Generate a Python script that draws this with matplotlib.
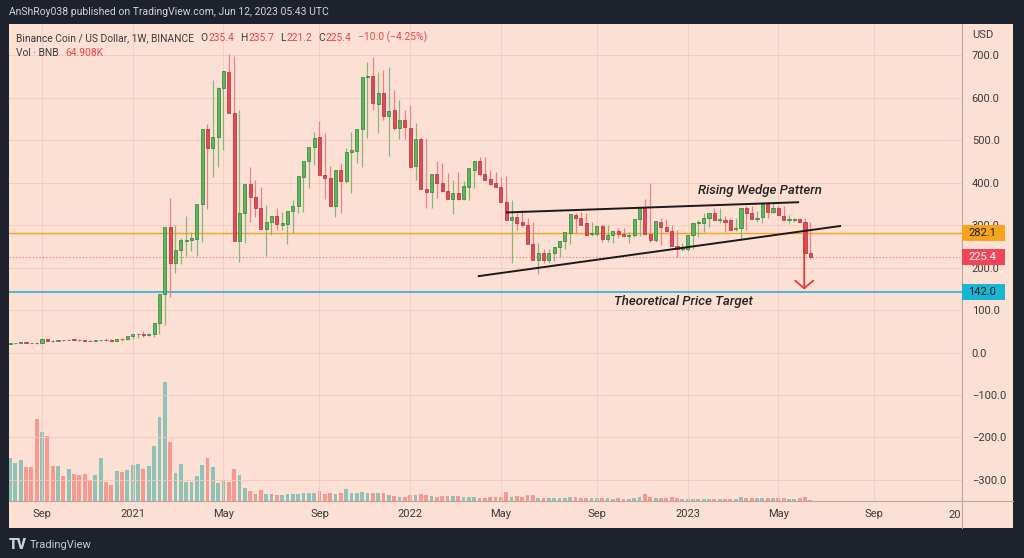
import matplotlib
matplotlib.use('Agg')
import matplotlib.pyplot as plt
import matplotlib.dates as mdates
import matplotlib.transforms as mtransforms
from matplotlib.lines import Line2D
from matplotlib.patches import Rectangle
import pandas as pd

plt.rcParams['font.family'] = ['Roboto', 'DejaVu Sans']

# weekly BNB/USD candles, first bar week of 2020-07-27
opens = [19.4, 21.6, 22.6, 23.0, 22.4, 22.0, 21.5, 31.0, 27.5, 27.0,
         29.5, 29.0, 30.6, 30.0, 29.0, 27.0, 26.5, 28.5, 29.5, 28.9,
         28.0, 32.6, 31.5, 38.5, 42.5, 44.0, 41.0, 44.5, 69.0, 137.0,
         296.0, 212.0, 241.0, 262.0, 266.0, 268.0, 350.0, 526.0, 482.0, 507.0,
         622.0, 662.0, 565.0, 262.0, 328.0, 396.0, 366.0, 340.0, 291.0, 308.0,
         322.0, 300.0, 303.0, 334.0, 344.0, 414.0, 450.0, 483.0, 507.0, 418.0,
         410.0, 345.0, 431.0, 405.0, 472.0, 475.0, 526.0, 648.0, 651.0, 585.0,
         612.0, 557.0, 571.0, 528.0, 548.0, 530.0, 439.0, 502.0, 385.0, 379.0,
         420.0, 399.0, 381.0, 361.0, 375.0, 362.0, 391.0, 431.0, 452.0, 420.0,
         408.0, 400.0, 391.0, 355.0, 312.0, 320.0, 308.0, 300.0, 256.0, 218.0,
         235.0, 219.0, 235.0, 249.0, 263.0, 282.0, 324.0, 318.0, 304.0, 279.0,
         279.0, 298.0, 267.0, 277.0, 287.0, 279.0, 274.0, 277.0, 314.0, 340.0,
         279.0, 265.0, 308.0, 296.0, 287.0, 251.0, 243.0, 245.0, 277.0, 306.0,
         304.0, 318.0, 329.0, 311.0, 312.0, 312.0, 290.0, 293.0, 340.0, 328.0,
         314.0, 320.0, 350.0, 332.0, 340.0, 321.0, 312.0, 311.0, 315.0, 307.0,
         235.4]
highs = [22.0, 23.4, 23.8, 24.0, 23.5, 24.8, 33.5, 33.0, 28.5, 29.8,
         30.5, 30.8, 32.5, 32.0, 30.0, 29.0, 28.6, 30.0, 34.0, 32.0,
         30.0, 34.0, 36.0, 40.0, 45.0, 50.0, 47.0, 46.0, 78.0, 151.0,
         365.0, 300.0, 269.0, 322.0, 285.0, 287.0, 363.0, 538.0, 643.0, 626.0,
         664.0, 703.0, 699.0, 571.0, 396.0, 436.0, 406.0, 391.0, 348.0, 318.0,
         340.0, 332.0, 316.0, 359.0, 359.0, 426.0, 471.0, 520.0, 546.0, 518.0,
         439.0, 420.0, 447.0, 481.0, 520.0, 515.0, 548.0, 685.0, 697.0, 662.0,
         666.0, 673.0, 618.0, 595.0, 571.0, 583.0, 540.0, 507.0, 505.0, 402.0,
         450.0, 446.0, 424.0, 406.0, 426.0, 405.0, 406.0, 450.0, 460.0, 461.0,
         430.0, 426.0, 414.0, 416.0, 359.0, 328.0, 336.0, 318.0, 308.0, 259.0,
         243.0, 245.0, 243.0, 257.0, 277.0, 296.0, 329.0, 332.0, 328.0, 308.0,
         293.0, 300.0, 300.0, 282.0, 293.0, 293.0, 285.0, 279.0, 321.0, 361.0,
         399.0, 289.0, 316.0, 314.0, 300.0, 289.0, 257.0, 253.0, 281.0, 312.0,
         328.0, 324.0, 340.0, 340.0, 321.0, 318.0, 316.0, 296.5, 344.0, 344.0,
         334.0, 324.0, 353.0, 353.0, 344.0, 344.0, 324.0, 316.0, 316.0, 318.0,
         308.0]
lows = [19.0, 20.6, 21.5, 21.7, 21.8, 20.0, 20.5, 26.0, 24.0, 26.5,
        27.8, 28.5, 29.0, 28.0, 26.0, 26.0, 26.0, 26.3, 26.0, 28.5,
        27.0, 27.5, 30.0, 31.0, 35.0, 37.0, 39.0, 37.5, 44.0, 65.0,
        130.0, 187.0, 209.0, 227.0, 238.0, 227.0, 261.0, 337.0, 414.0, 438.0,
        477.0, 595.0, 512.0, 214.0, 257.0, 308.0, 320.0, 316.0, 227.0, 277.0,
        289.0, 289.0, 256.0, 281.0, 328.0, 332.0, 387.0, 442.0, 455.0, 361.0,
        383.0, 320.0, 328.0, 399.0, 375.0, 447.0, 438.0, 505.0, 571.0, 516.0,
        548.0, 463.0, 524.0, 502.0, 502.0, 497.0, 406.0, 406.0, 340.0, 340.0,
        363.0, 379.0, 363.0, 326.0, 359.0, 359.0, 359.0, 388.0, 416.0, 418.0,
        395.0, 391.0, 379.0, 351.0, 210.0, 289.0, 296.0, 293.0, 253.0, 186.0,
        210.0, 210.0, 216.0, 226.0, 245.0, 256.0, 281.0, 304.0, 277.0, 274.0,
        274.0, 261.0, 261.0, 257.0, 269.0, 274.0, 259.0, 271.0, 274.0, 308.0,
        261.0, 261.0, 253.0, 285.0, 282.0, 224.0, 240.0, 240.0, 243.0, 273.0,
        285.0, 296.0, 316.0, 304.0, 285.0, 303.0, 287.0, 265.0, 289.0, 321.0,
        308.0, 304.0, 316.0, 328.0, 326.0, 320.0, 304.0, 308.0, 310.0, 306.0,
        221.2]
closes = [21.6, 22.6, 23.0, 22.4, 22.0, 21.5, 31.0, 27.5, 27.0, 29.5,
          29.0, 30.6, 30.0, 29.0, 27.0, 26.5, 28.5, 29.5, 28.9, 28.0,
          32.6, 31.5, 38.5, 42.5, 44.0, 41.0, 44.5, 69.0, 137.0, 296.0,
          212.0, 241.0, 265.0, 266.0, 270.0, 351.0, 526.0, 482.0, 507.0, 622.0,
          664.0, 565.0, 262.0, 328.0, 396.0, 366.0, 340.0, 291.0, 308.0, 322.0,
          303.0, 305.0, 334.0, 345.0, 416.0, 452.0, 483.0, 505.0, 418.0, 410.0,
          345.0, 431.0, 405.0, 472.0, 477.0, 526.0, 650.0, 652.0, 587.0, 612.0,
          557.0, 570.0, 530.0, 548.0, 532.0, 438.0, 502.0, 385.0, 379.0, 420.0,
          399.0, 381.0, 361.0, 375.0, 362.0, 392.0, 434.0, 452.0, 420.0, 406.0,
          398.0, 391.0, 355.0, 312.0, 320.0, 306.0, 300.0, 256.0, 218.0, 235.0,
          218.0, 235.0, 249.0, 263.0, 285.0, 326.0, 318.0, 300.0, 277.0, 282.0,
          298.0, 267.0, 277.0, 287.0, 279.0, 274.0, 277.0, 314.0, 340.0, 279.0,
          265.0, 310.0, 295.0, 287.0, 251.0, 243.0, 248.0, 277.0, 304.0, 307.0,
          318.0, 329.0, 312.0, 314.0, 308.0, 289.0, 293.0, 340.0, 328.0, 314.0,
          318.0, 350.0, 332.0, 340.0, 324.0, 312.0, 314.0, 315.0, 307.0, 235.4,
          225.4]
volumes_k = [4300, 3800, 4100, 3400, 3400, 8200, 6900, 6500, 3500, 3500,
             2500, 3200, 2700, 2600, 2700, 2100, 2600, 4300, 1900, 1600,
             3000, 2900, 3100, 3600, 3700, 3200, 3500, 5500, 8400, 11900,
             5900, 2800, 3700, 1900, 1900, 2500, 3600, 4300, 3400, 1800,
             2100, 1900, 3200, 2600, 1300, 1000, 700, 1100, 700, 700,
             600, 600, 700, 700, 700, 800, 800, 800, 1000, 700,
             800, 700, 800, 1200, 800, 800, 900, 800, 800, 800,
             800, 600, 500, 400, 400, 600, 600, 700, 600, 500,
             400, 500, 500, 500, 500, 400, 400, 400, 300, 300,
             400, 400, 400, 900, 400, 500, 400, 600, 600, 300,
             300, 300, 300, 300, 300, 400, 400, 300, 300, 280,
             300, 280, 260, 250, 260, 250, 200, 300, 400, 700,
             400, 300, 300, 300, 400, 300, 220, 200, 220, 200,
             200, 220, 200, 200, 200, 220, 200, 400, 300, 280,
             260, 280, 300, 260, 280, 260, 250, 240, 260, 400,
             65]
dates = pd.date_range('2020-07-27', periods=len(opens), freq='7D')

tick_dates = ['2020-09-07', '2021-01-04', '2021-05-03', '2021-09-06', '2022-01-03',
              '2022-05-02', '2022-09-05', '2023-01-02', '2023-05-01', '2023-09-04']
tick_labels = ['Sep', '2021', 'May', 'Sep', '2022', 'May', 'Sep', '2023', 'May', 'Sep']
price_ticks = [-300, -200, -100, 0, 100, 200, 300, 400, 500, 600, 700]

resistance = 282.1
target = 142.0
last_close = closes[-1]
wedge_upper_dates = ['2022-05-10', '2023-05-27']
wedge_upper_prices = [330, 354]
wedge_lower_dates = ['2022-04-03', '2023-07-21']
wedge_lower_prices = [180, 298]
arrow_date = '2023-06-04'
arrow_start = 285

BG = '#1e222d'
PANEL = '#fde0d4'
UP, UP_EDGE, UP_WICK = '#5cb85c', '#2f7d32', '#86b875'
DN, DN_EDGE, DN_WICK = '#e04b5a', '#b02a37', '#e8808a'
VOL_UP, VOL_DN = '#91c2b6', '#f69991'
TXT = '#3a3a3a'
RED_TXT = '#e0454f'

W, H = 1024, 558


def fx(px):
    return px / W


def fy(py):
    return 1 - py / H


fig = plt.figure(figsize=(W / 100, H / 100), dpi=100, facecolor=BG)
fig.add_artist(Rectangle((fx(9), fy(528)), fx(1013) - fx(9), fy(24) - fy(528),
                         transform=fig.transFigure, facecolor=PANEL,
                         edgecolor='none', zorder=-1))

ax = fig.add_axes([fx(9), fy(501), fx(962) - fx(9), fy(24) - fy(501)])
axv = ax.twinx()
axv.set_zorder(1)
ax.set_zorder(2)
ax.patch.set_visible(False)
axv.patch.set_visible(False)

x = mdates.date2num(dates)
up = [c >= o for o, c in zip(opens, closes)]

# volume
axv.bar(x, volumes_k, width=5.0, color=[VOL_UP if u else VOL_DN for u in up],
        linewidth=0)
axv.set_ylim(0, max(volumes_k) * 477 / 119)
axv.set_yticks([])
for s in axv.spines.values():
    s.set_visible(False)

# candles
ax.vlines(x, lows, highs, colors=[UP_WICK if u else DN_WICK for u in up],
          linewidth=0.9, zorder=3)
bottoms = [min(o, c) for o, c in zip(opens, closes)]
heights = [max(abs(c - o), 1.2) for o, c in zip(opens, closes)]
ax.bar(x, heights, bottom=bottoms, width=4.1,
       color=[UP if u else DN for u in up],
       edgecolor=[UP_EDGE if u else DN_EDGE for u in up], linewidth=0.5, zorder=4)

ax.set_xlim(mdates.date2num(pd.Timestamp('2020-07-25 16:00')),
            mdates.date2num(pd.Timestamp('2023-12-28')))
ax.set_ylim(-349.8, 773.9)

ax.axhline(resistance, color='#f5a21e', linewidth=1.0, zorder=2)
ax.axhline(target, color='#3cb4d6', linewidth=1.3, zorder=2)
ax.axhline(last_close, color='#e0707a', linewidth=0.8, linestyle=(0, (1, 2)), zorder=2)

ax.plot(mdates.date2num(pd.to_datetime(wedge_upper_dates)), wedge_upper_prices,
        color='#1a1a1a', linewidth=1.4, zorder=5)
ax.plot(mdates.date2num(pd.to_datetime(wedge_lower_dates)), wedge_lower_prices,
        color='#1a1a1a', linewidth=1.4, zorder=5)
ax_x = mdates.date2num(pd.Timestamp(arrow_date))
ax.annotate('', xy=(ax_x, target), xytext=(ax_x, arrow_start),
            arrowprops=dict(arrowstyle='->,head_length=0.55,head_width=0.65',
                            color='#e53935', linewidth=1.3, mutation_scale=10),
            zorder=6)

ax.text(mdates.date2num(pd.Timestamp('2023-04-07')), 382, 'Rising Wedge Pattern',
        fontsize=9.5, fontstyle='italic', fontweight='medium', color='#222222',
        ha='center', va='center', zorder=6)
ax.text(mdates.date2num(pd.Timestamp('2022-12-28')), 121, 'Theoretical Price Target',
        fontsize=9.5, fontstyle='italic', fontweight='medium', color='#222222',
        ha='center', va='center', zorder=6)

# grid and axes
ax.set_xticks([mdates.date2num(pd.Timestamp(d)) for d in tick_dates])
ax.set_xticklabels(tick_labels)
ax.yaxis.tick_right()
ax.set_yticks(price_ticks)
ax.set_yticklabels([f'{v:.1f}'.replace('-', '\u2212') for v in price_ticks])
ax.tick_params(axis='y', length=0, pad=7, labelsize=8, labelcolor=TXT)
ax.tick_params(axis='x', length=0, pad=6, labelsize=8, labelcolor=TXT)
ax.grid(True, color='#f2cbbd', linewidth=0.6, zorder=0)
ax.set_axisbelow(True)
for s in ax.spines.values():
    s.set_visible(False)

fig.add_artist(Line2D([fx(962), fx(962)], [fy(528), fy(24)], transform=fig.transFigure,
                      color='#b3a8a5', linewidth=0.8))
fig.add_artist(Line2D([fx(9), fx(1013)], [fy(501), fy(501)], transform=fig.transFigure,
                      color='#b3a8a5', linewidth=0.8))
fig.text(fx(961), fy(515), '20', fontsize=8, color=TXT, ha='right', va='center')
fig.text(fx(972), fy(35), 'USD', fontsize=8, color=TXT, ha='left', va='center')

# price tags on the axis
blend = mtransforms.blended_transform_factory(ax.transAxes, ax.transData)
units_per_px = (773.9 + 349.8) / 477
tag_w = 43 / 953
for value, face, tcol in [(resistance, '#f7a31e', '#222222'),
                          (last_close, '#f04458', '#ffffff'),
                          (target, '#19b6d4', '#1a1a1a')]:
    ax.add_patch(Rectangle((1.0, value - 8 * units_per_px), tag_w, 16 * units_per_px,
                           transform=blend, facecolor=face, edgecolor='none',
                           clip_on=False, zorder=7))
    ax.text(1.0 + 6 / 953, value, f'{value:.1f}', transform=blend, fontsize=8,
            color=tcol, ha='left', va='center', clip_on=False, zorder=8)


def text_run(x0, y0, parts, size=7.4):
    t = fig.text(x0, y0, parts[0][0], color=parts[0][1], fontsize=size,
                 ha='left', va='bottom')
    for s, c, gap in parts[1:]:
        t = ax.annotate(s, xy=(1, 0), xycoords=t, xytext=(gap, 0),
                        textcoords='offset points', color=c, fontsize=size,
                        ha='left', va='bottom')
    return t


text_run(fx(16), fy(43), [('Binance Coin / US Dollar, 1W, BINANCE', TXT),
                          ('O', TXT, 4.5), ('235.4', RED_TXT, 0.5),
                          ('H', TXT, 4.5), ('235.7', RED_TXT, 0.5),
                          ('L', TXT, 4.5), ('221.2', RED_TXT, 0.5),
                          ('C', TXT, 4.5), ('225.4', RED_TXT, 0.5),
                          ('\u221210.0 (\u22124.25%)', RED_TXT, 4.5)])
text_run(fx(16), fy(58), [('Vol \u00b7 BNB', TXT), ('64.908K', RED_TXT, 4.5)])

fig.text(fx(9), fy(12), 'AnShRoy038 published on TradingView.com, Jun 12, 2023 05:43 UTC',
         fontsize=7.5, color='#d2d4dc', ha='left', va='center')
fig.text(fx(9), fy(545), 'TV', fontsize=10, fontweight='heavy', color='#d2d4dc',
         ha='left', va='center')
fig.text(fx(30), fy(545), 'TradingView', fontsize=8, color='#c8cad2',
         ha='left', va='center')

fig.savefig('out.png', dpi=100, facecolor=BG)
